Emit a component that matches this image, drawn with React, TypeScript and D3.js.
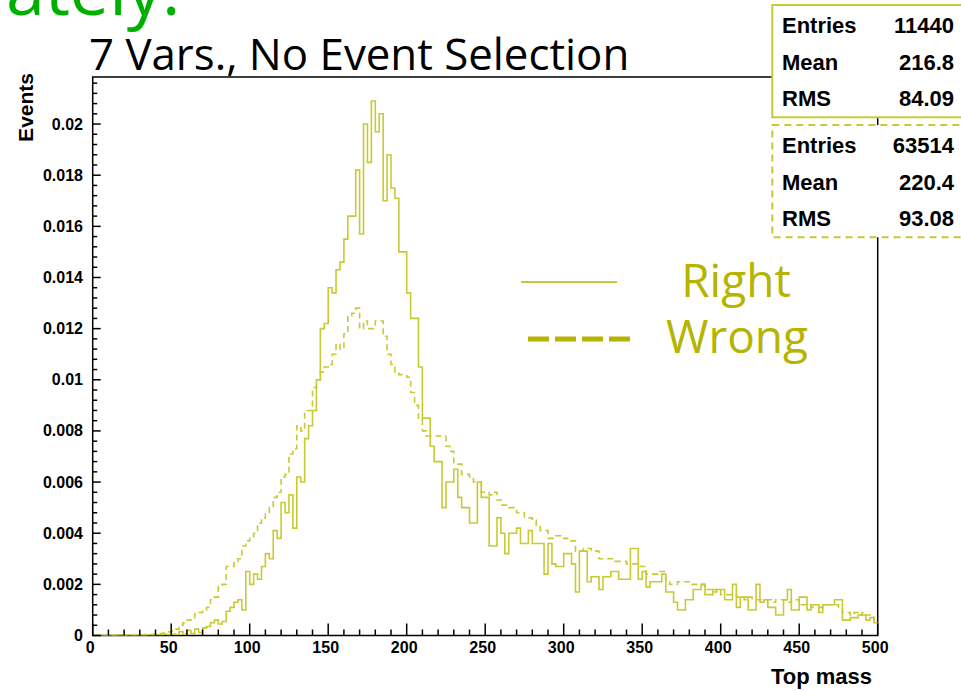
import React from 'react';
import * as d3 from 'd3';

// ---------------- data ----------------
const X_MIN = 0;
const X_MAX = 500;
const Y_MAX = 0.02184;

// normalised bin contents, 200 bins of 2.5 GeV from 0 to 500
const rightValues = [
  0, 0, 0, 0, 0, 0, 0.00001, 0.00002, 0, 0.00001,
  0, 0, 0.00002, 0, 0.00003, 0.00002, 0.00004, 0.00003, 0.00005, 0.00003,
  0.00006, 0.00004, 0.00015, 0.00005, 0.0002, 0.00008, 0.00025, 0.00012, 0.0003, 0.00035,
  0.0005, 0.0006, 0.00045, 0.00055, 0.00095, 0.0011, 0.0013, 0.0014, 0.001, 0.0025,
  0.002, 0.0024, 0.0022, 0.0027, 0.0032, 0.003, 0.0041, 0.0038, 0.0052, 0.0048,
  0.0055, 0.0042, 0.0062, 0.006, 0.0077, 0.0082, 0.0088, 0.01, 0.012, 0.0122,
  0.0136, 0.0134, 0.0143, 0.0146, 0.0155, 0.0164, 0.0164, 0.0182, 0.0157, 0.02,
  0.0185, 0.0209, 0.0197, 0.0204, 0.017, 0.0188, 0.0175, 0.0171, 0.015, 0.015,
  0.0134, 0.0124, 0.0124, 0.0105, 0.0085, 0.0085, 0.0074, 0.0068, 0.0068, 0.005,
  0.006, 0.006, 0.0065, 0.0054, 0.005, 0.005, 0.0044, 0.0044, 0.006, 0.0054,
  0.0054, 0.0035, 0.0035, 0.0046, 0.004, 0.0032, 0.004, 0.004, 0.0042, 0.0036,
  0.0036, 0.0041, 0.0036, 0.0036, 0.0036, 0.0024, 0.0036, 0.0028, 0.0027, 0.0027,
  0.0032, 0.0032, 0.0028, 0.0017, 0.0033, 0.0033, 0.0021, 0.0023, 0.0023, 0.0018,
  0.0023, 0.0023, 0.0025, 0.0025, 0.0022, 0.0022, 0.0022, 0.0034, 0.0034, 0.0022,
  0.0025, 0.0019, 0.0021, 0.0021, 0.0021, 0.0024, 0.0017, 0.0017, 0.0013, 0.001,
  0.001, 0.0014, 0.0014, 0.0018, 0.0018, 0.002, 0.0016, 0.0016, 0.0018, 0.0018,
  0.0018, 0.0014, 0.0014, 0.002, 0.0011, 0.0015, 0.0015, 0.001, 0.001, 0.002,
  0.0013, 0.0014, 0.0011, 0.0011, 0.0008, 0.0008, 0.0014, 0.0018, 0.001, 0.001,
  0.0015, 0.0015, 0.001, 0.0012, 0.0012, 0.0009, 0.0012, 0.0012, 0.0012, 0.0014,
  0.0014, 0.0006, 0.0006, 0.0007, 0.0007, 0.0008, 0.0008, 0.0006, 0.0007, 0.0005,
];

const wrongValues = [
  0, 0, 0.00001, 0, 0.00001, 0.00001, 0.00001, 0.00002, 0.00001, 0.00002,
  0.00002, 0.00003, 0.00003, 0.00004, 0.00005, 0.00005, 0.00007, 0.00008, 0.0001, 0.00014,
  0.00018, 0.00025, 0.0004, 0.0005, 0.0006, 0.0007, 0.00085, 0.0009, 0.001, 0.0011,
  0.0014, 0.0015, 0.0019, 0.002, 0.0027, 0.0027, 0.0029, 0.003, 0.0035, 0.0037,
  0.0038, 0.004, 0.0044, 0.0046, 0.0048, 0.005, 0.0054, 0.0056, 0.0062, 0.0063,
  0.0071, 0.0073, 0.0082, 0.008, 0.0088, 0.0088, 0.0097, 0.01, 0.0103, 0.0105,
  0.0106, 0.011, 0.0114, 0.0112, 0.0118, 0.0125, 0.0126, 0.0128, 0.012, 0.0123,
  0.012, 0.012, 0.0123, 0.0123, 0.0117, 0.011, 0.0106, 0.0103, 0.0102, 0.0102,
  0.0101, 0.0095, 0.009, 0.0085, 0.008, 0.0078, 0.0078, 0.0078, 0.0078, 0.0078,
  0.0074, 0.0072, 0.0067, 0.0067, 0.0063, 0.0063, 0.0062, 0.006, 0.006, 0.0056,
  0.0056, 0.0055, 0.0056, 0.0053, 0.0051, 0.0051, 0.005, 0.005, 0.0048, 0.0048,
  0.0046, 0.0046, 0.0045, 0.0043, 0.0041, 0.0041, 0.0038, 0.0038, 0.0039, 0.0039,
  0.0038, 0.0037, 0.0037, 0.0033, 0.0033, 0.0034, 0.0034, 0.0033, 0.0033, 0.003,
  0.003, 0.003, 0.003, 0.0029, 0.0029, 0.0029, 0.0028, 0.0028, 0.0028, 0.0027,
  0.0027, 0.0024, 0.0024, 0.0024, 0.0025, 0.0025, 0.0021, 0.002, 0.002, 0.0021,
  0.0021, 0.0021, 0.002, 0.002, 0.002, 0.002, 0.0018, 0.0018, 0.0017, 0.0018,
  0.0016, 0.0016, 0.0016, 0.0016, 0.0015, 0.0015, 0.0014, 0.0015, 0.0014, 0.0014,
  0.0014, 0.0014, 0.0014, 0.0013, 0.0014, 0.0014, 0.0014, 0.0013, 0.0014, 0.0014,
  0.0012, 0.0012, 0.0012, 0.0011, 0.0011, 0.0011, 0.0012, 0.0012, 0.0012, 0.0012,
  0.0011, 0.0009, 0.0009, 0.0008, 0.0009, 0.0008, 0.0009, 0.0008, 0.0008, 0.0005,
];

const xTickValues = [0, 50, 100, 150, 200, 250, 300, 350, 400, 450, 500];
const xTickLabels = ['0', '50', '100', '150', '200', '250', '300', '350', '400', '450', '500'];
const yTickValues = [0, 0.002, 0.004, 0.006, 0.008, 0.01, 0.012, 0.014, 0.016, 0.018, 0.02];
const yTickLabels = ['0', '0.002', '0.004', '0.006', '0.008', '0.01', '0.012', '0.014', '0.016', '0.018', '0.02'];

const statsRightNames = ['Entries', 'Mean', 'RMS'];
const statsRightValues = ['11440', '216.8', '84.09'];
const statsWrongNames = ['Entries', 'Mean', 'RMS'];
const statsWrongValues = ['63514', '220.4', '93.08'];

const legendLabels = ['Right', 'Wrong'];
const titleText = '7 Vars., No Event Selection';
const slideFragment = 'ately.';
const xAxisTitle = 'Top mass';
const yAxisTitle = 'Events';

// ---------------- layout / style ----------------
const W = 961;
const H = 691;
const FRAME = { left: 92.7, right: 877.7, top: 77, bottom: 635.5 };
const HIST_COLOR = '#c9c936';
const LEGEND_COLOR = '#b6b400';
const GREEN = '#00b000';
const AXIS_FONT = '"Liberation Sans", Arial, sans-serif';
const SLIDE_FONT = '"Open Sans", "DejaVu Sans", sans-serif';

export default function App() {
  const x = d3.scaleLinear().domain([X_MIN, X_MAX]).range([FRAME.left, FRAME.right]);
  const y = d3.scaleLinear().domain([0, Y_MAX]).range([FRAME.bottom, FRAME.top]);

  const binWidth = (X_MAX - X_MIN) / rightValues.length;
  const toPoints = (vals: number[]) => {
    const pts: [number, number][] = vals.map((v, i) => [X_MIN + i * binWidth, v]);
    pts.push([X_MAX, vals[vals.length - 1]]);
    return pts;
  };
  const line = d3
    .line<[number, number]>()
    .x((d) => x(d[0]))
    .y((d) => y(d[1]))
    .curve(d3.curveStepAfter);

  const rightPath = line(toPoints(rightValues)) || '';
  const wrongPath = line(toPoints(wrongValues)) || '';

  const xMinor = d3.range(X_MIN, X_MAX + 0.001, 10).filter((v) => v % 50 !== 0);
  const yMinor = d3.range(0, Y_MAX, 0.0004).filter((v) => Math.abs(v / 0.002 - Math.round(v / 0.002)) > 1e-6);

  const statBox = (
    top: number,
    names: string[],
    values: string[],
    dashed: boolean,
    key: string
  ) => (
    <g key={key}>
      <rect
        x={772.3}
        y={top}
        width={200}
        height={112.3}
        fill="#ffffff"
        stroke={HIST_COLOR}
        strokeWidth={2}
        strokeDasharray={dashed ? '7 5' : undefined}
      />
      {names.map((n, i) => (
        <g key={n}>
          <text
            x={782}
            y={top + 28 + i * 36.5}
            fontFamily={AXIS_FONT}
            fontWeight="bold"
            fontSize={22}
            fill="#000"
          >
            {n}
          </text>
          <text
            x={954}
            y={top + 28 + i * 36.5}
            fontFamily={AXIS_FONT}
            fontWeight="bold"
            fontSize={22}
            fill="#000"
            textAnchor="end"
          >
            {values[i]}
          </text>
        </g>
      ))}
    </g>
  );

  return (
    <svg
      width={W}
      height={H}
      viewBox={`0 0 ${W} ${H}`}
      style={{ position: 'absolute', left: 0, top: 0, background: '#fff', overflow: 'hidden' }}
    >
      <rect x={0} y={0} width={W} height={H} fill="#fff" />
      <defs>
        <clipPath id="frameClip">
          <rect x={FRAME.left} y={FRAME.top} width={FRAME.right - FRAME.left} height={FRAME.bottom - FRAME.top} />
        </clipPath>
      </defs>

      {/* slide title fragment (cut by the top edge, as in the source slide) */}
      <text x={6} y={15} fontFamily={SLIDE_FONT} fontSize={70} fill={GREEN}>
        {slideFragment}
      </text>

      {/* plot title */}
      <text x={89} y={70} fontFamily={SLIDE_FONT} fontSize={43.8} fill="#000">
        {titleText}
      </text>

      {/* frame */}
      <rect
        x={FRAME.left}
        y={FRAME.top}
        width={FRAME.right - FRAME.left}
        height={FRAME.bottom - FRAME.top}
        fill="none"
        stroke="#000"
        strokeWidth={1.5}
      />

      {/* histograms */}
      <g clipPath="url(#frameClip)" fill="none" stroke={HIST_COLOR} strokeWidth={1.6}>
        <path d={wrongPath} strokeDasharray="6 4" />
        <path d={rightPath} />
      </g>

      {/* ticks */}
      <g stroke="#000" strokeWidth={1.5}>
        {xTickValues.map((v) => (
          <line key={`xM${v}`} x1={x(v)} x2={x(v)} y1={FRAME.bottom} y2={FRAME.bottom - 12} />
        ))}
        {xMinor.map((v) => (
          <line key={`xm${v}`} x1={x(v)} x2={x(v)} y1={FRAME.bottom} y2={FRAME.bottom - 6} />
        ))}
        {yTickValues.map((v) => (
          <line key={`yM${v}`} x1={FRAME.left} x2={FRAME.left + 8} y1={y(v)} y2={y(v)} />
        ))}
        {yMinor.map((v) => (
          <line key={`ym${v}`} x1={FRAME.left} x2={FRAME.left + 4.5} y1={y(v)} y2={y(v)} />
        ))}
      </g>

      {/* tick labels */}
      <g fontFamily={AXIS_FONT} fontWeight="bold" fontSize={16} fill="#000">
        {xTickValues.map((v, i) => (
          <text key={`xl${v}`} x={x(v) - 2.5} y={653} textAnchor="middle">
            {xTickLabels[i]}
          </text>
        ))}
        {yTickValues.map((v, i) => (
          <text key={`yl${v}`} x={83} y={y(v)} textAnchor="end" dominantBaseline="central">
            {yTickLabels[i]}
          </text>
        ))}
      </g>

      {/* axis titles */}
      <text
        x={872}
        y={684}
        textAnchor="end"
        fontFamily={AXIS_FONT}
        fontWeight="bold"
        fontSize={22}
        fill="#000"
      >
        {xAxisTitle}
      </text>
      <text
        transform="translate(33,73) rotate(-90)"
        textAnchor="end"
        fontFamily={AXIS_FONT}
        fontWeight="bold"
        fontSize={21}
        fill="#000"
      >
        {yAxisTitle}
      </text>

      {/* legend */}
      <line x1={521} x2={617} y1={282} y2={282} stroke={LEGEND_COLOR} strokeWidth={1.5} />
      <line x1={528} x2={632} y1={339} y2={339} stroke={LEGEND_COLOR} strokeWidth={5} strokeDasharray="21 6" />
      <text x={736} y={297} textAnchor="middle" fontFamily={SLIDE_FONT} fontSize={46} fill={LEGEND_COLOR}>
        {legendLabels[0]}
      </text>
      <text x={737} y={353} textAnchor="middle" fontFamily={SLIDE_FONT} fontSize={46} fill={LEGEND_COLOR}>
        {legendLabels[1]}
      </text>

      {/* stats boxes */}
      {statBox(5, statsRightNames, statsRightValues, false, 'sR')}
      {statBox(125, statsWrongNames, statsWrongValues, true, 'sW')}
    </svg>
  );
}
